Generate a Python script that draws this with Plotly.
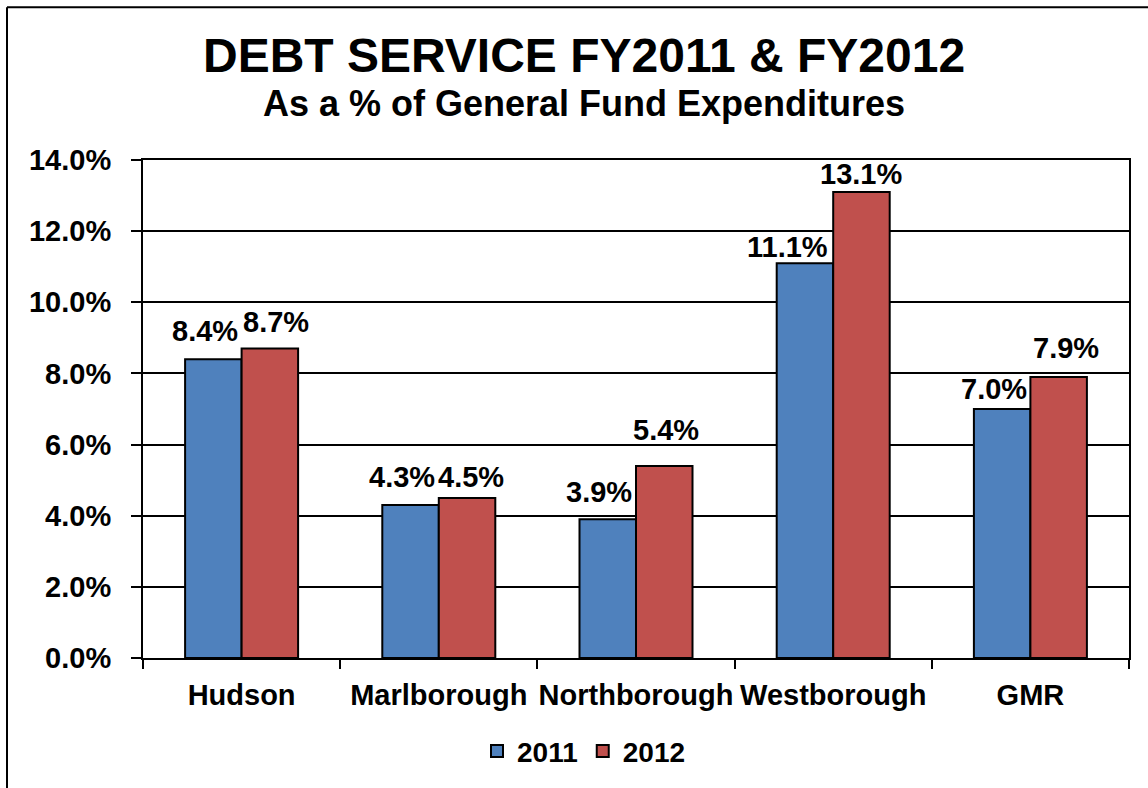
import plotly.graph_objects as go

# ---- data -------------------------------------------------------------
towns = ["Hudson", "Marlborough", "Northborough", "Westborough", "GMR"]
fy2011 = [8.4, 4.3, 3.9, 11.1, 7.0]
fy2012 = [8.7, 4.5, 5.4, 13.1, 7.9]
series_names = ["2011", "2012"]
y_ticks = [0, 2, 4, 6, 8, 10, 12, 14]

title_text = "DEBT SERVICE FY2011 & FY2012"
subtitle_text = "As a % of General Fund Expenditures"

# ---- styling / layout constants ---------------------------------------
W, H = 1148, 788
ML, MR, MT, MB = 143, 19, 160, 126
BARGAP = 0.427
FONT = "Liberation Sans, Arial, Helvetica, sans-serif"
COLORS = ["#4F81BD", "#C0504D"]
CENTER_PX = 584          # horizontal centre of the chart block

# hand nudges for the value labels (pixels): horizontal offset, gap above bar
label_dx = [[-8.5, -9, -8.5, -17, -8.5], [6.5, 4, 1.5, 0, 7]]
label_gap = [[18, 18, 17, 6, 10], [17, 11, 26, 8, 19]]

plot_w = W - ML - MR
plot_h = H - MT - MB


def px_x(px):
    return (px - ML) / plot_w


def px_y(py):
    return (H - MB - py) / plot_h


fig = go.Figure()
for name, vals, color in zip(series_names, [fy2011, fy2012], COLORS):
    fig.add_trace(go.Bar(
        x=towns, y=vals, name=name,
        marker=dict(color=color, line=dict(color="black", width=2)),
        hoverinfo="x+y",
    ))

# value labels above each bar
half_bar = plot_w / len(towns) * (1 - BARGAP) / 4
annotations = []
for s, vals in enumerate([fy2011, fy2012]):
    side = -1 if s == 0 else 1
    for i, (town, v) in enumerate(zip(towns, vals)):
        annotations.append(dict(
            x=town, y=v, xref="x", yref="y",
            text=f"{v:.1f}%", showarrow=False,
            xanchor="center", yanchor="bottom",
            xshift=side * half_bar + label_dx[s][i],
            yshift=label_gap[s][i] - 8,
            font=dict(family=FONT, size=29, color="black", weight="bold"),
        ))

# titles
annotations.append(dict(
    text=title_text, xref="paper", yref="paper",
    x=px_x(CENTER_PX), y=px_y(83), xanchor="center", yanchor="bottom",
    showarrow=False,
    font=dict(family=FONT, size=48, color="black", weight="bold"),
))
annotations.append(dict(
    text=subtitle_text, xref="paper", yref="paper",
    x=px_x(CENTER_PX), y=px_y(126), xanchor="center", yanchor="bottom",
    showarrow=False,
    font=dict(family=FONT, size=36, color="black", weight="bold"),
))

# outer chart border (left and top edges)
shapes = [
    dict(type="line", xref="paper", yref="paper",
         x0=px_x(7), x1=px_x(7), y0=px_y(6), y1=px_y(H + 5),
         line=dict(color="black", width=2)),
    dict(type="line", xref="paper", yref="paper",
         x0=px_x(7), x1=px_x(W + 5), y0=px_y(6), y1=px_y(6),
         line=dict(color="black", width=2)),
]

fig.update_layout(
    width=W, height=H,
    margin=dict(l=ML, r=MR, t=MT, b=MB, pad=0),
    paper_bgcolor="white", plot_bgcolor="white",
    barmode="group", bargap=BARGAP, bargroupgap=0,
    showlegend=True,
    legend=dict(
        orientation="h", x=px_x(CENTER_PX), xanchor="center",
        y=px_y(756), yanchor="middle",
        font=dict(family=FONT, size=28, color="black", weight="bold"),
        bgcolor="rgba(0,0,0,0)", itemwidth=30, tracegroupgap=0,
    ),
    annotations=annotations,
    shapes=shapes,
    xaxis=dict(
        type="category", showline=True, linecolor="black", linewidth=2,
        mirror=True, ticks="outside", tickson="boundaries",
        ticklen=9, tickwidth=2, tickcolor="black", tickangle=0,
        ticklabelstandoff=10,
        tickfont=dict(family=FONT, size=29, color="black", weight="bold"),
        showgrid=False, fixedrange=True, automargin=False,
    ),
    yaxis=dict(
        range=[0, 14], tickvals=y_ticks,
        ticktext=[f"{v:.1f}%" for v in y_ticks],
        showline=True, linecolor="black", linewidth=2, mirror=True,
        ticks="outside", ticklen=10, tickwidth=2, tickcolor="black",
        showgrid=True, gridcolor="black", gridwidth=1.5,
        zeroline=False, ticklabelstandoff=14,
        tickfont=dict(family=FONT, size=29, color="black", weight="bold"),
        fixedrange=True, automargin=False,
    ),
)

fig.write_html("out.html", config={"displayModeBar": False})
